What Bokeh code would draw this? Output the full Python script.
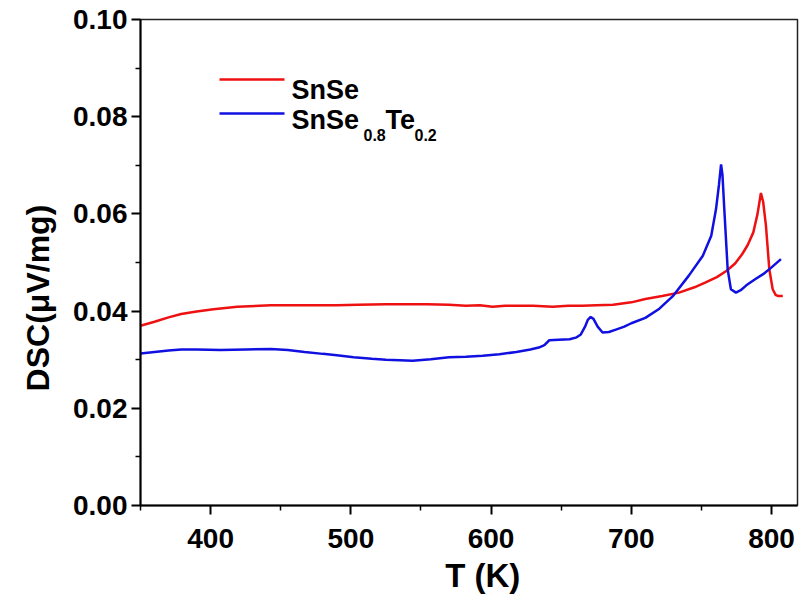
from bokeh.plotting import figure
from bokeh.models import (FixedTicker, NumeralTickFormatter, Label, Arrow, Range1d)
from bokeh.embed import file_html
from bokeh.resources import INLINE

# ---- data ----
T_snse = [350, 360, 370, 379, 390, 402, 419, 443, 467, 490, 505, 525, 544, 554, 570,
          582, 592, 601, 610, 618, 630, 644, 655, 665, 675, 687, 700, 710, 722, 734,
          745, 753, 761, 768, 774, 779, 783, 787, 790, 792.4, 794, 796, 798.4, 800.8,
          803, 805, 808]
dsc_snse = [0.0370, 0.0378, 0.0387, 0.0394, 0.0399, 0.0404, 0.0409, 0.0412, 0.0412,
            0.0412, 0.0413, 0.0414, 0.0414, 0.0414, 0.0413, 0.0411, 0.0412, 0.0409,
            0.0411, 0.0411, 0.0411, 0.0409, 0.0411, 0.0411, 0.0412, 0.0413, 0.0418,
            0.0425, 0.0431, 0.0438, 0.0449, 0.0459, 0.0470, 0.0483, 0.0498, 0.0517,
            0.0536, 0.0562, 0.0600, 0.0643, 0.0625, 0.0576, 0.0486, 0.0445, 0.0433,
            0.0431, 0.0431]

T_snsete = [350, 360, 370, 379, 390, 407, 425, 443, 455, 467, 480, 490, 502, 515, 525,
            535, 544, 557, 570, 582, 594, 606, 618, 628, 634, 638, 641.5, 648, 656, 661,
            664, 667, 669, 671, 673, 676, 679.5, 684, 689, 695, 700, 710, 720, 730, 741,
            751, 757, 760.4, 762.5, 764, 765, 766.3, 768.7, 771, 774.6, 778, 782, 788,
            794, 800, 806.7]
dsc_snsete = [0.0313, 0.0316, 0.0319, 0.0321, 0.0321, 0.0320, 0.0321, 0.0322, 0.0320,
              0.0316, 0.0312, 0.0309, 0.0305, 0.0302, 0.0300, 0.0299, 0.0298, 0.0301,
              0.0305, 0.0306, 0.0308, 0.0311, 0.0316, 0.0321, 0.0325, 0.0330, 0.0340,
              0.0341, 0.0342, 0.0346, 0.0352, 0.0368, 0.0382, 0.0388, 0.0384, 0.0368,
              0.0356, 0.0357, 0.0362, 0.0368, 0.0375, 0.0386, 0.0405, 0.0432, 0.0473,
              0.0514, 0.0555, 0.0610, 0.0660, 0.0702, 0.0680, 0.0610, 0.0486, 0.0445,
              0.0438, 0.0443, 0.0453, 0.0465, 0.0476, 0.0490, 0.0507]

x_ticks = [400, 500, 600, 700, 800]
x_minor = [350, 450, 550, 650, 750]
y_ticks = [0.0, 0.02, 0.04, 0.06, 0.08, 0.10]
y_minor = [0.01, 0.03, 0.05, 0.07, 0.09]

RED = "#ee1111"
BLUE = "#1010e0"
FONT = "Liberation Sans"
NB = "\u00a0"

p = figure(width=799, height=596, output_backend="svg", toolbar_location=None,
           x_range=Range1d(350, 818.5), y_range=Range1d(0, 0.10))
p.min_border_left = 140
p.min_border_right = 2
p.min_border_top = 19
p.min_border_bottom = 91
p.background_fill_color = "white"
p.border_fill_color = "white"
p.grid.visible = False
p.outline_line_color = "#222222"
p.outline_line_width = 1.5

p.line(T_snse, dsc_snse, line_color=RED, line_width=2.5)
p.line(T_snsete, dsc_snsete, line_color=BLUE, line_width=2.5)

for ax in (p.xaxis[0], p.yaxis[0]):
    ax.axis_line_width = 2
    ax.axis_line_color = "black"
    ax.major_tick_in = 0
    ax.major_tick_out = 9
    ax.minor_tick_in = 0
    ax.minor_tick_out = 5
    ax.major_tick_line_width = 2
    ax.minor_tick_line_width = 1.5
    ax.major_tick_line_color = "black"
    ax.minor_tick_line_color = "black"
    ax.major_label_text_font = FONT
    ax.major_label_text_font_style = "bold"
    ax.major_label_text_font_size = "28px"
    ax.major_label_text_color = "black"
    ax.axis_label_text_font = FONT
    ax.axis_label_text_font_style = "bold"
    ax.axis_label_text_color = "black"

p.xaxis.axis_label_text_font_size = "33px"
p.yaxis.axis_label_text_font_size = "32px"
p.xaxis.ticker = FixedTicker(ticks=x_ticks, minor_ticks=x_minor)
p.yaxis.ticker = FixedTicker(ticks=y_ticks, minor_ticks=y_minor)
p.yaxis.formatter = NumeralTickFormatter(format="0.00")
# non-breaking spaces only nudge the titles along their axes
p.xaxis.axis_label = NB * 3 + "T (K)"
p.yaxis.axis_label = "DSC(\u03bcV/mg)" + NB * 8
p.xaxis.major_label_standoff = 14
p.yaxis.major_label_standoff = 4
p.xaxis.axis_label_standoff = 6
p.yaxis.axis_label_standoff = 14

# ---- legend (screen units, relative to the plot frame, y upwards) ----
p.add_layout(Arrow(end=None, x_start=79, x_end=144, y_start=426, y_end=426,
                   start_units="screen", end_units="screen",
                   line_color=RED, line_width=2.5))
p.add_layout(Arrow(end=None, x_start=79, x_end=144, y_start=392, y_end=392,
                   start_units="screen", end_units="screen",
                   line_color=BLUE, line_width=2.5))

def lab(txt, x, y, size):
    p.add_layout(Label(x=x, y=y, x_units="screen", y_units="screen", text=txt,
                       text_font=FONT, text_font_style="bold", text_font_size=size,
                       text_color="black", text_baseline="alphabetic", text_align="left"))

lab("SnSe", 151, 416, "27px")
lab("SnSe", 151, 386, "27px")
lab("0.8", 223, 371, "16px")
lab("Te", 245, 386, "27px")
lab("0.2", 274, 371, "16px")

open("out.html", "w").write(file_html(p, INLINE))
